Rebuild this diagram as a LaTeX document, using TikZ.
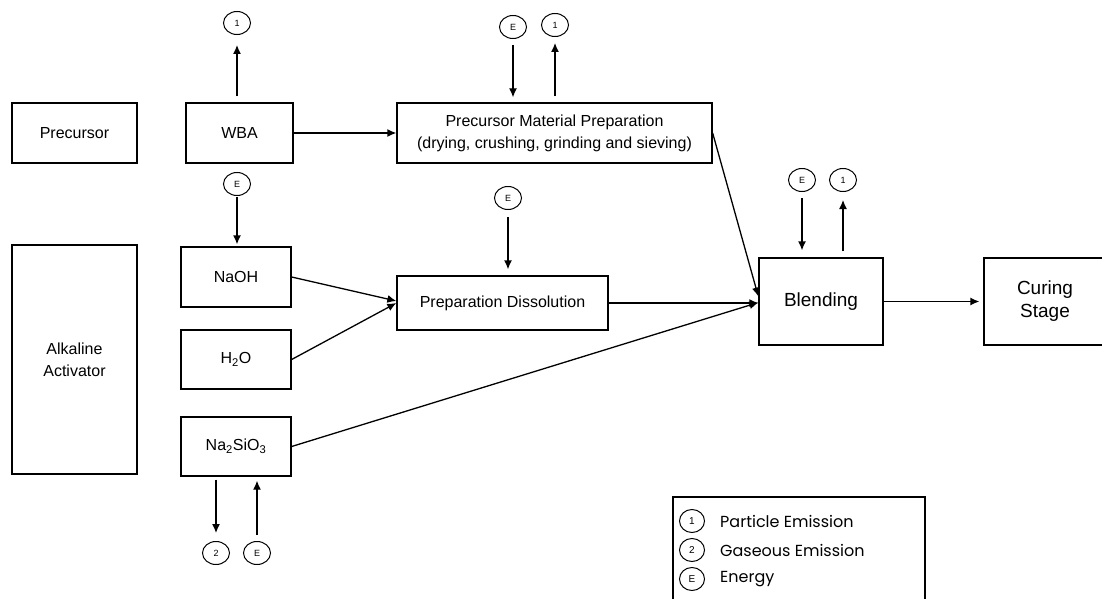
\documentclass[tikz,border=0pt]{standalone}
\usepackage{fontspec}
\setmainfont{Liberation Sans}
\newfontfamily\legfont{Poppins}
\usetikzlibrary{arrows.meta,shapes.geometric,calc}
\tikzset{
  box/.style={draw, line width=1.3pt, inner sep=0pt, align=center, font=\fontsize{16}{22}\selectfont},
  bigbox/.style={box, font=\fontsize{19}{23}\selectfont},
  emis/.style={draw, ellipse, line width=1pt, minimum width=27pt, minimum height=23pt, inner sep=0pt, font=\fontsize{9}{10}\selectfont},
  legcirc/.style={draw, ellipse, line width=1pt, minimum width=25pt, minimum height=23pt, inner sep=0pt, font=\fontsize{10}{11}\selectfont},
  legtext/.style={anchor=west, inner sep=0pt, font=\legfont\fontsize{16}{18}\selectfont},
  arr/.style={line width=1.3pt, -{Latex[length=9pt,width=8pt]}},
}
\begin{document}
\begin{tikzpicture}[x=1pt,y=-1pt]
\useasboundingbox (0,0) rectangle (1102,599);
\clip (0,0) rectangle (1102,599);
% boxes
\node[box, minimum width=125pt, minimum height=60pt] (prec) at (74.5,133) {Precursor};
\node[box, minimum width=107pt, minimum height=60pt] (wba) at (239.5,133) {WBA};
\node[box, minimum width=315pt, minimum height=60pt] (pmp) at (554.5,133) {Precursor Material Preparation\\(drying, crushing, grinding and sieving)};
\node[box, minimum width=125pt, minimum height=229pt] (alk) at (74.5,359.5) {Alkaline\\Activator};
\node[box, minimum width=110pt, minimum height=60pt] (naoh) at (236,277) {NaOH};
\node[box, minimum width=110pt, minimum height=59pt] (h2o) at (236,359.5) {H\textsubscript{2}O};
\node[box, minimum width=110pt, minimum height=59pt] (nasi) at (236,446.5) {Na\textsubscript{2}SiO\textsubscript{3}};
\node[box, minimum width=211pt, minimum height=54pt] (pd) at (502.5,303) {Preparation Dissolution};
\node[bigbox, minimum width=124pt, minimum height=87pt] (blend) at (821,301.5) {Blending};
\node[bigbox, minimum width=126pt, minimum height=87pt, text width=120pt] (cure) at (1047,301.5) {\hspace*{-4pt}Curing\\\hspace*{-4pt}Stage};
% emission circles
\node[emis] (wba1) at (237,23) {1};
\node[emis] (wbaE) at (237,184) {E};
\node[emis] (pmpE) at (513,27) {E};
\node[emis] (pmp1) at (555,25) {1};
\node[emis] (pdE) at (508,198) {E};
\node[emis] (blE) at (802,180) {E};
\node[emis] (bl1) at (843,180) {1};
\node[emis] (na2) at (216,553) {2};
\node[emis] (naE) at (257,553) {E};
% emission arrows
\draw[arr, shorten <=6pt, shorten >=10pt] (wba1 |- wba.north) -- (wba1.south);
\draw[arr, shorten <=1pt, shorten >=2pt] (wbaE.south) -- (wbaE |- naoh.north);
\draw[arr, shorten <=6pt, shorten >=5pt] (pmpE.south) -- (pmpE |- pmp.north);
\draw[arr, shorten <=6pt, shorten >=6pt] (pmp1 |- pmp.north) -- (pmp1.south);
\draw[arr, shorten <=7pt, shorten >=6pt] (pdE.south) -- (pdE |- pd.north);
\draw[arr, shorten <=6pt, shorten >=7pt] (blE.south) -- (blE |- blend.north);
\draw[arr, shorten <=6pt, shorten >=8pt] (bl1 |- blend.north) -- (bl1.south);
\draw[arr, shorten <=3pt, shorten >=8pt] (na2 |- nasi.south) -- (na2.north);
\draw[arr, shorten <=6pt, shorten >=4pt] (naE.north) -- (naE |- nasi.south);
% flow arrows
\draw[arr] (wba.east) -- (pmp.west);
\draw[arr] (pmp.east) -- ([yshift=5pt]blend.west);
\draw[arr] (naoh.east) -- ([yshift=2pt]pd.west);
\draw[arr] (h2o.east) -- (pd.west);
\draw[arr] (pd.east) -- (pd.east -| blend.west);
\draw[arr] (nasi.east) -- ([yshift=-1pt]blend.west);
\draw[arr, shorten >=4pt] (blend.east) -- (blend.east -| cure.west);
% legend
\draw[line width=1.3pt] (673,620) -- (673,497) -- (925,497) -- (925,620);
\node[legcirc] (l1) at (692,521) {1};
\node[legcirc] (l2) at (692,550) {2};
\node[legcirc] (l3) at (692,579) {E};
\node[legtext] (t1) at (720,521) {Particle Emission};
\node[legtext] (t2) at (720,550) {Gaseous Emission};
\node[legtext] (t3) at (720,579) {Energy};
\end{tikzpicture}
\end{document}
